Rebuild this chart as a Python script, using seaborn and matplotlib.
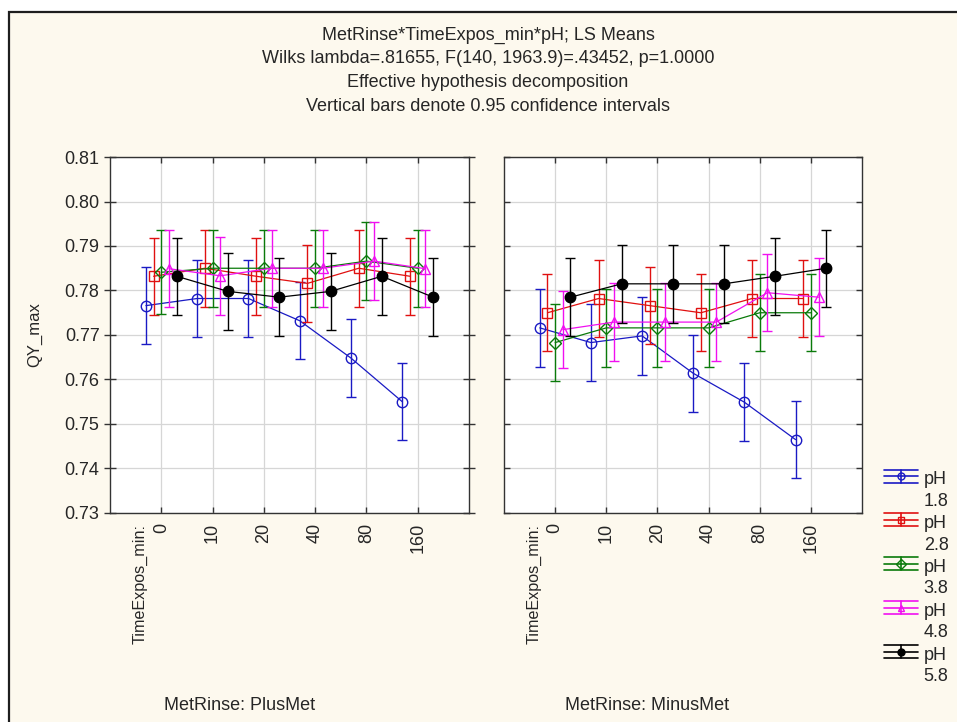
import numpy as np
import pandas as pd
import matplotlib
matplotlib.use("Agg")
import matplotlib.pyplot as plt
from matplotlib.lines import Line2D
from matplotlib.patches import Rectangle
from matplotlib.legend_handler import HandlerBase
from matplotlib.ticker import MultipleLocator, FormatStrFormatter
import seaborn as sns

# ---- data: LS means of QY_max with 0.95 CI half-widths ----
times = ["0", "10", "20", "40", "80", "160"]
ph_levels = ["1.8", "2.8", "3.8", "4.8", "5.8"]

plus_met_ph18 = [0.7766, 0.7782, 0.7782, 0.7732, 0.7648, 0.7550]
plus_met_ph28 = [0.7832, 0.7850, 0.7832, 0.7816, 0.7850, 0.7832]
plus_met_ph38 = [0.7841, 0.7850, 0.7850, 0.7850, 0.7866, 0.7850]
plus_met_ph48 = [0.7849, 0.7833, 0.7850, 0.7850, 0.7866, 0.7849]
plus_met_ph58 = [0.7832, 0.7798, 0.7785, 0.7798, 0.7832, 0.7785]

minus_met_ph18 = [0.7716, 0.7683, 0.7698, 0.7614, 0.7549, 0.7465]
minus_met_ph28 = [0.7750, 0.7782, 0.7766, 0.7750, 0.7782, 0.7782]
minus_met_ph38 = [0.7683, 0.7716, 0.7716, 0.7716, 0.7750, 0.7750]
minus_met_ph48 = [0.7712, 0.7729, 0.7729, 0.7729, 0.7795, 0.7785]
minus_met_ph58 = [0.7785, 0.7815, 0.7815, 0.7815, 0.7832, 0.7850]

ci_plus_met = [
    [0.0087, 0.0087, 0.0087, 0.0087, 0.0087, 0.0087],
    [0.0087, 0.0087, 0.0087, 0.0087, 0.0087, 0.0087],
    [0.0094, 0.0087, 0.0087, 0.0087, 0.0087, 0.0087],
    [0.0087, 0.0087, 0.0087, 0.0087, 0.0087, 0.0087],
    [0.0087, 0.0087, 0.0087, 0.0087, 0.0087, 0.0087],
]
ci_minus_met = [
    [0.0087, 0.0087, 0.0087, 0.0087, 0.0087, 0.0087],
    [0.0087, 0.0087, 0.0087, 0.0087, 0.0087, 0.0087],
    [0.0087, 0.0087, 0.0087, 0.0087, 0.0087, 0.0087],
    [0.0087, 0.0087, 0.0087, 0.0087, 0.0087, 0.0087],
    [0.0087, 0.0087, 0.0087, 0.0087, 0.0087, 0.0087],
]

panels = [
    ("MetRinse: PlusMet",
     [plus_met_ph18, plus_met_ph28, plus_met_ph38, plus_met_ph48, plus_met_ph58],
     ci_plus_met),
    ("MetRinse: MinusMet",
     [minus_met_ph18, minus_met_ph28, minus_met_ph38, minus_met_ph48, minus_met_ph58],
     ci_minus_met),
]

# ---- styling ----
colors = ["#1a1ac4", "#e01010", "#0a7a0a", "#f010f0", "#000000"]
markers = ["o", "s", "D", "^", "o"]
filled = [False, False, False, False, True]
dodge = [-0.30, -0.15, 0.0, 0.15, 0.30]
cream = "#fdf9ee"
frame = "#333333"

sns.set_style("whitegrid")
plt.rcParams["font.family"] = ["Liberation Sans", "DejaVu Sans"]
plt.rcParams["font.size"] = 13

W, H = 957, 722
fig = plt.figure(figsize=(W / 100, H / 100), dpi=100)
fig.patch.set_facecolor("white")
fig.patches.append(Rectangle((9 / W, -0.05), 1.2, 1 - 12 / H + 0.05,
                             transform=fig.transFigure, facecolor=cream,
                             edgecolor="#1e1e1e", linewidth=1.6, zorder=-10))

ax1 = fig.add_axes([110 / W, 1 - 513 / H, 359 / W, 356 / H])
ax2 = fig.add_axes([504 / W, 1 - 513 / H, 358 / W, 356 / H], sharey=ax1)
axes = [ax1, ax2]
bottom_label_x = [240 / W, 647 / W]

handles = []
for k, (ax, (facet, series, cis)) in enumerate(zip(axes, panels)):
    ax.set_facecolor("white")
    base = np.arange(len(times))
    for i, (vals, ci) in enumerate(zip(series, cis)):
        x = base + dodge[i]
        ax.errorbar(x, vals, yerr=ci, fmt="none", ecolor=colors[i],
                    elinewidth=1.0, capsize=3.5, capthick=1.0, zorder=3 + i)
        df = pd.DataFrame({"x": x, "y": vals})
        sns.lineplot(data=df, x="x", y="y", ax=ax, color=colors[i],
                     linewidth=0.9, marker=markers[i],
                     markersize=7.5 if markers[i] != "D" else 6.3,
                     markerfacecolor=colors[i] if filled[i] else "none",
                     markeredgecolor=colors[i], markeredgewidth=1.0,
                     sort=False, zorder=3 + i, legend=False)
        if k == 0:
            handles.append(Line2D([], [], color=colors[i], marker=markers[i],
                                  markerfacecolor=colors[i] if filled[i] else "none",
                                  markeredgecolor=colors[i]))

    ax.set_xlim(-1, 6)
    ax.set_ylim(0.73, 0.81)
    ax.set_xticks(base)
    ax.set_xticklabels(times, rotation=90)
    ax.yaxis.set_major_locator(MultipleLocator(0.01))
    ax.yaxis.set_major_formatter(FormatStrFormatter("%.2f"))
    ax.set_xlabel("")
    ax.set_ylabel("")
    ax.grid(True, color="#d6d6d6", linewidth=0.9)
    for s in ax.spines.values():
        s.set_color(frame)
        s.set_linewidth(1.0)
        s.set_visible(True)
    ax.tick_params(axis="both", which="major", direction="in", length=4,
                   width=1.0, color=frame, top=True, right=True,
                   bottom=True, left=True, labelsize=13)
    ax.tick_params(axis="x", pad=7)

    ax.annotate("TimeExpos_min:", xy=(-0.42, 0), xycoords=("data", "axes fraction"),
                xytext=(0, -8), textcoords="offset points",
                rotation=90, ha="center", va="top", fontsize=11.6)
    fig.text(bottom_label_x[k], 1 - 706 / H, facet, ha="center", va="center",
             fontsize=13)

ax1.tick_params(axis="y", direction="inout", length=9, pad=3)
ax2.tick_params(axis="y", labelleft=False)
ax1.set_ylabel("QY_max", fontsize=12)
ax1.yaxis.set_label_coords((42 - 110) / 359, 0.5)

# ---- title block ----
title_lines = [
    "MetRinse*TimeExpos_min*pH; LS Means",
    "Wilks lambda=.81655, F(140, 1963.9)=.43452, p=1.0000",
    "Effective hypothesis decomposition",
    "Vertical bars denote 0.95 confidence intervals",
]
for j, line in enumerate(title_lines):
    fig.text(488 / W, 1 - (35 + 23.7 * j) / H, line, ha="center",
             va="center", fontsize=13)


# ---- legend: error-bar key with marker ----
class ErrorbarKey(HandlerBase):
    def create_artists(self, legend, orig_handle, xdescent, ydescent,
                       width, height, fontsize, trans):
        c = orig_handle.get_color()
        cy = -ydescent + height / 2 + fontsize * 0.80
        hh = fontsize * 0.36
        x0, x1 = -xdescent, -xdescent + width
        xm = (x0 + x1) / 2
        arts = [
            Line2D([x0, x1], [cy + hh, cy + hh], color=c, lw=1.2),
            Line2D([x0, x1], [cy - hh, cy - hh], color=c, lw=1.2),
            Line2D([x0, x1], [cy, cy], color=c, lw=1.2),
            Line2D([xm, xm], [cy - hh, cy + hh], color=c, lw=1.2),
            Line2D([xm], [cy], marker=orig_handle.get_marker(), ms=5,
                   mfc=orig_handle.get_markerfacecolor(), mec=c, mew=1.0),
        ]
        for a in arts:
            a.set_transform(trans)
        return arts


leg = fig.legend(handles, [f"pH\n{p}" for p in ph_levels],
                 handler_map={Line2D: ErrorbarKey()},
                 loc="upper left", bbox_to_anchor=(884 / W, 1 - 471 / H),
                 frameon=False, fontsize=13, handlelength=1.9,
                 handletextpad=0.3, labelspacing=0.3, borderaxespad=0,
                 borderpad=0)
for t in leg.get_texts():
    t.set_linespacing(1.35)

fig.savefig("out.png", dpi=100, facecolor=fig.get_facecolor())
